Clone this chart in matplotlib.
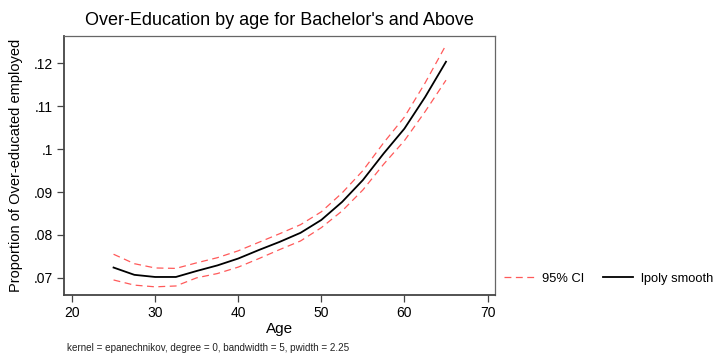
import matplotlib.pyplot as plt
import numpy as np

plt.rcParams['font.family'] = ['Liberation Sans', 'DejaVu Sans']

# lpoly smooth de over-education por idade (bacharelado ou mais)
idade = [25, 27.5, 30, 32.5, 35, 37.5, 40, 42.5, 45, 47.5, 50, 52.5, 55, 57.5, 60, 62.5, 65]
suave = [.0724, .0707, .0702, .0702, .0716, .0729, .0745, .0765, .0784, .0805,
         .0835, .0877, .0928, .0990, .1048, .1122, .1204]
ic_sup = [.0755, .0733, .0723, .0722, .0735, .0747, .0763, .0783, .0803, .0824,
          .0854, .0898, .0950, .1015, .1075, .1155, .1243]
ic_inf = [.0695, .0683, .0679, .0681, .0700, .0710, .0725, .0745, .0766, .0786,
          .0817, .0856, .0905, .0965, .1020, .1088, .1161]

xticks = [20, 30, 40, 50, 60, 70]
yticks = [.07, .08, .09, .10, .11, .12]
ytick_labels = ['.07', '.08', '.09', '.1', '.11', '.12']

fig = plt.figure(figsize=(7.17, 3.53), dpi=100)
ax = fig.add_axes([0.0893, 0.164, 0.6011, 0.734])

l_ic, = ax.plot(idade, ic_sup, color='#ff5a5a', lw=0.9, dashes=(5.5, 3.6), label='95% CI')
ax.plot(idade, ic_inf, color='#ff5a5a', lw=0.9, dashes=(5.5, 3.6))
l_suave, = ax.plot(idade, suave, color='black', lw=1.3, label='lpoly smooth')

ax.set_xlim(19.04, 70.9)
ax.set_ylim(0.06597, 0.1264)
ax.set_xticks(xticks)
ax.set_yticks(yticks)
ax.set_yticklabels(ytick_labels)
ax.tick_params(direction='out', length=5, width=0.9, color='#444444',
               labelsize=10, pad=3)

for lado in ['top', 'right']:
    ax.spines[lado].set_color('#666666')
    ax.spines[lado].set_linewidth(0.9)
for lado in ['left', 'bottom']:
    ax.spines[lado].set_color('#444444')
    ax.spines[lado].set_linewidth(1.3)

ax.set_xlabel('Age', fontsize=11, labelpad=1)
ax.set_ylabel('Proportion of Over-educated employed', fontsize=10.5, labelpad=8)
ax.set_title("Over-Education by age for Bachelor's and Above", fontsize=13, pad=8)

# legenda fora do gráfico, à direita
fig.legend(handles=[l_ic, l_suave], loc='center left', bbox_to_anchor=(0.703, 0.21),
           ncol=2, frameon=False, fontsize=9.3, handlelength=2.3, columnspacing=1.5,
           handletextpad=0.6, borderpad=0, borderaxespad=0)

fig.text(0.0935, 0.006, 'kernel = epanechnikov, degree = 0, bandwidth = 5, pwidth = 2.25',
         fontsize=7.1, color='#222222')

plt.savefig('out.png', dpi=100)
